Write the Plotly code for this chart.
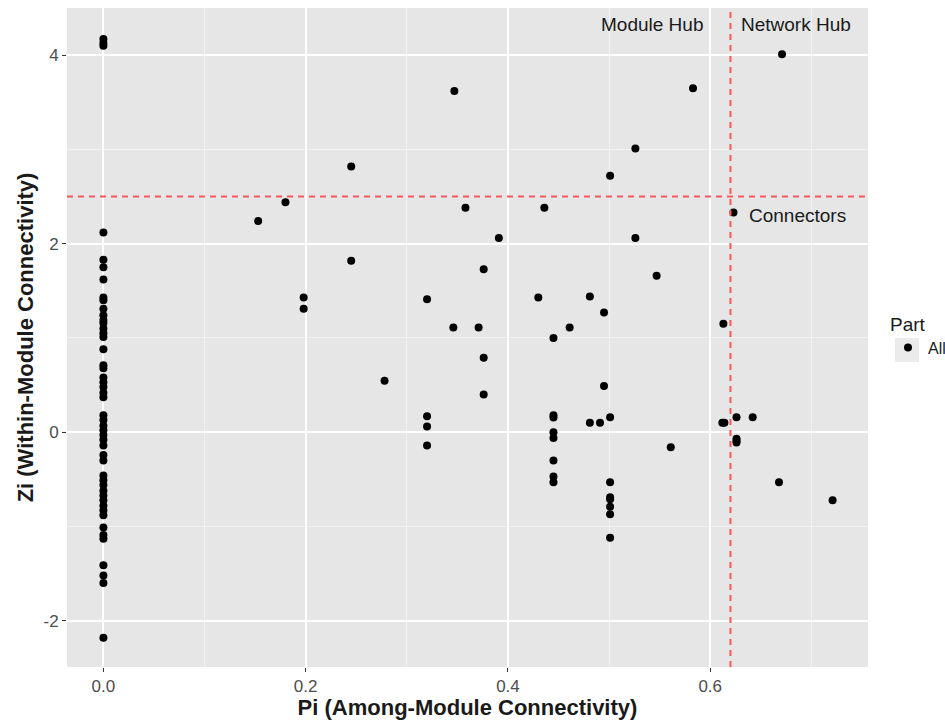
import plotly.graph_objects as go

# ---- data ----
zi_at_zero = [4.17, 4.13, 4.10, 2.12, 1.83, 1.75, 1.62, 1.43, 1.40, 1.31, 1.24, 1.19,
              1.16, 1.10, 1.05, 1.01, 0.88, 0.71, 0.68, 0.58, 0.53, 0.48, 0.42, 0.37,
              0.18, 0.13, 0.07, 0.02, -0.03, -0.08, -0.14, -0.24, -0.30, -0.46, -0.51,
              -0.56, -0.62, -0.67, -0.72, -0.78, -0.83, -0.88, -1.01, -1.09, -1.13,
              -1.41, -1.52, -1.60, -2.18]

pi_other = [0.153, 0.180, 0.245, 0.245, 0.198, 0.198, 0.347, 0.358, 0.391, 0.376,
            0.320, 0.430, 0.346, 0.371, 0.445, 0.376, 0.278, 0.376, 0.320, 0.320,
            0.320, 0.445, 0.445, 0.445, 0.445, 0.445, 0.445, 0.445, 0.671, 0.583,
            0.526, 0.501, 0.436, 0.623, 0.526, 0.547, 0.481, 0.495, 0.613, 0.461,
            0.495, 0.501, 0.481, 0.491, 0.612, 0.614, 0.626, 0.642, 0.626, 0.626,
            0.626, 0.561, 0.501, 0.501, 0.501, 0.501, 0.501, 0.501, 0.668, 0.721]
zi_other = [2.24, 2.44, 2.82, 1.82, 1.43, 1.31, 3.62, 2.38, 2.06, 1.73,
            1.41, 1.43, 1.11, 1.11, 1.00, 0.79, 0.545, 0.40, 0.17, 0.06,
            -0.14, 0.18, 0.156, 0.0, -0.06, -0.30, -0.47, -0.53, 4.01, 3.65,
            3.01, 2.72, 2.38, 2.33, 2.06, 1.66, 1.44, 1.27, 1.15, 1.11,
            0.49, 0.16, 0.10, 0.10, 0.10, 0.10, 0.16, 0.16, -0.07, -0.09,
            -0.11, -0.16, -0.53, -0.69, -0.71, -0.79, -0.87, -1.12, -0.53, -0.72]

pi_values = [0.0] * len(zi_at_zero) + pi_other
zi_values = zi_at_zero + zi_other

zi_threshold = 2.5
pi_threshold = 0.62

x_ticks = [0.0, 0.2, 0.4, 0.6]
x_tick_labels = ["0.0", "0.2", "0.4", "0.6"]
y_ticks = [-2, 0, 2, 4]
y_tick_labels = ["-2", "0", "2", "4"]

FONT = "Liberation Sans, Arial, sans-serif"

fig = go.Figure()
fig.add_trace(go.Scatter(
    x=pi_values, y=zi_values, mode="markers", name="All",
    marker=dict(color="black", size=8),
    showlegend=True,
))

fig.add_hline(y=zi_threshold, line=dict(color="#F8585C", width=2, dash="6px,5px"))
fig.add_vline(x=pi_threshold, line=dict(color="#F8585C", width=2, dash="6px,5px"))

ann_font = dict(family=FONT, size=19, color="#1a1a1a")
fig.add_annotation(x=0.542, y=4.33, text="Module Hub", showarrow=False, font=ann_font)
fig.add_annotation(x=0.685, y=4.33, text="Network Hub", showarrow=False, font=ann_font)
fig.add_annotation(x=0.686, y=2.30, text="Connectors", showarrow=False, font=ann_font)

# grey key background in legend (ggplot style)
fig.add_shape(type="rect", xref="paper", yref="paper",
              x0=1.0337, x1=1.0637, y0=0.4628, y1=0.4992,
              fillcolor="#EBEBEB", line=dict(width=0), layer="below")

axis_common = dict(
    showgrid=True, gridcolor="white", gridwidth=1.6,
    zeroline=False, showline=False,
    ticks="outside", ticklen=4, tickcolor="#333333", tickwidth=1,
    tickfont=dict(family=FONT, size=17, color="#4D4D4D"),
)

fig.update_layout(
    width=945, height=720,
    margin=dict(l=67, r=77, t=8, b=53, autoexpand=False),
    paper_bgcolor="white", plot_bgcolor="#E6E6E6",
    font=dict(family=FONT),
    xaxis=dict(
        range=[-0.036, 0.756], tickvals=x_ticks, ticktext=x_tick_labels,
        minor=dict(tickvals=[0.1, 0.3, 0.5, 0.7], showgrid=True, gridcolor="#F2F2F2",
                   gridwidth=0.8, ticks=""),
        title=dict(text="<b>Pi (Among-Module Connectivity)</b>",
                   font=dict(family=FONT, size=22, color="#1a1a1a"), standoff=0),
        **axis_common,
    ),
    yaxis=dict(
        range=[-2.49, 4.50], tickvals=y_ticks, ticktext=y_tick_labels,
        minor=dict(tickvals=[-1, 1, 3], showgrid=True, gridcolor="#F2F2F2",
                   gridwidth=0.8, ticks=""),
        title=dict(text="<b>Zi (Within-Module Connectivity)</b>",
                   font=dict(family=FONT, size=22, color="#1a1a1a"), standoff=3),
        **axis_common,
    ),
    legend=dict(
        title=dict(text="Part", font=dict(family=FONT, size=19, color="#1a1a1a")),
        font=dict(family=FONT, size=16, color="#1a1a1a"),
        xref="container", yref="container",
        x=888 / 945, y=1 - 306 / 720, xanchor="left", yanchor="top",
        bgcolor="rgba(0,0,0,0)", itemwidth=30,
    ),
)

fig.write_html("out.html")
